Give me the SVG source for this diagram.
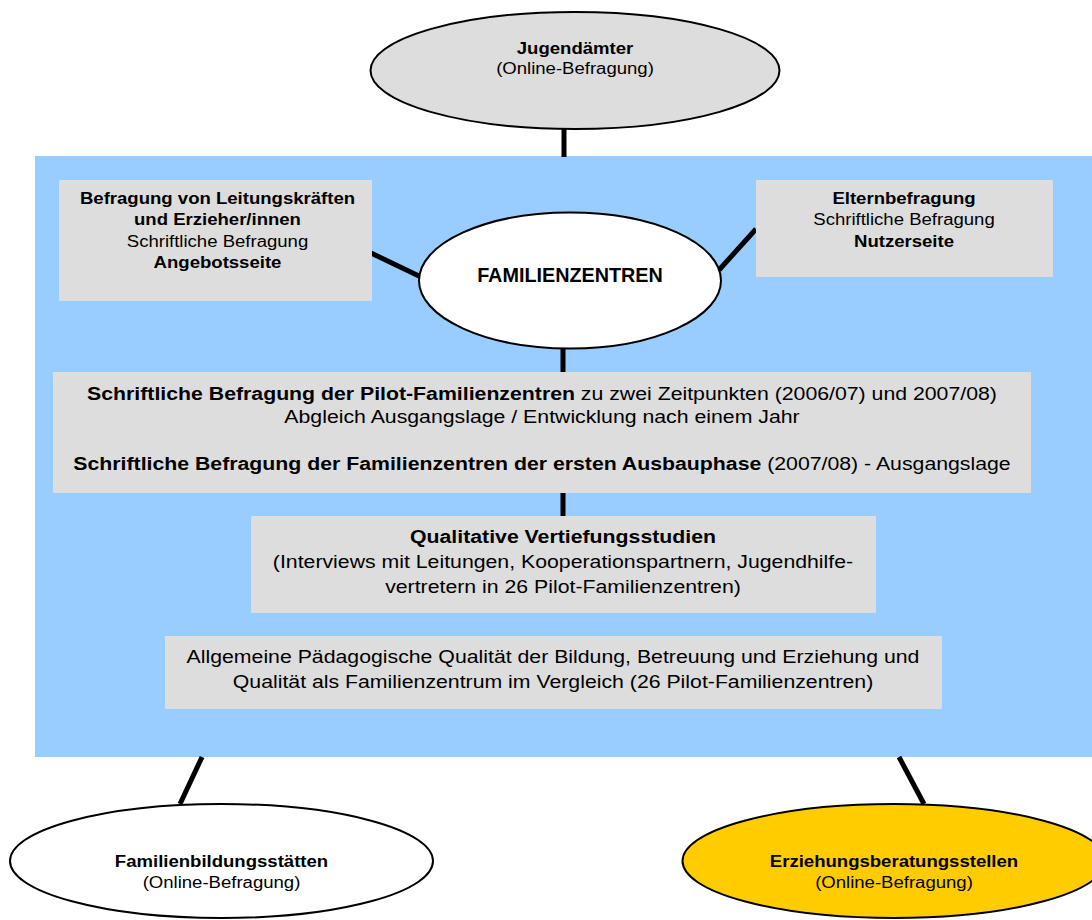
<svg xmlns="http://www.w3.org/2000/svg" width="1092" height="920" viewBox="0 0 1092 920">
<style>
  text { font-family: "Liberation Sans", Arial, sans-serif; fill: #000; text-anchor: middle; }
  .s { font-size: 16px; }
  .m { font-size: 18.5px; }
  .b { font-weight: bold; }
  .box { fill: #DDDDDD; stroke: none; }
  .ell { stroke: #000; stroke-width: 2; }
  .conn line { stroke: #000; stroke-width: 5; }
</style>
<rect id="background" x="35" y="156" width="1057" height="601" fill="#99CCFF"/>
<g class="conn" id="connectors">
  <line x1="564" y1="128" x2="564" y2="157"/>
  <line x1="371" y1="253" x2="421" y2="277"/>
  <line x1="719" y1="270" x2="756" y2="229"/>
  <line x1="563" y1="347" x2="563" y2="373"/>
  <line x1="563" y1="492" x2="563" y2="517"/>
  <line x1="202" y1="757" x2="180" y2="804"/>
  <line x1="899" y1="757" x2="924" y2="804"/>
</g>
<g id="jugendaemter">
  <ellipse class="ell" cx="575" cy="70.5" rx="204.5" ry="58.5" fill="#DDDDDD"/>
  <text class="s b" transform="translate(575,54) scale(1.16,1)">Jugendämter</text>
  <text class="s" transform="translate(575,73.5) scale(1.16,1)">(Online-Befragung)</text>
</g>
<g id="leitung">
  <rect class="box" x="59" y="180" width="313" height="121"/>
  <text class="s b" transform="translate(217.5,204) scale(1.16,1)">Befragung von Leitungskräften</text>
  <text class="s b" transform="translate(217.5,225) scale(1.16,1)">und Erzieher/innen</text>
  <text class="s" transform="translate(217.5,246.5) scale(1.16,1)">Schriftliche Befragung</text>
  <text class="s b" transform="translate(217.5,267.5) scale(1.16,1)">Angebotsseite</text>
</g>
<g id="eltern">
  <rect class="box" x="756" y="180" width="297" height="97"/>
  <text class="s b" transform="translate(904,204) scale(1.16,1)">Elternbefragung</text>
  <text class="s" transform="translate(904,225) scale(1.16,1)">Schriftliche Befragung</text>
  <text class="s b" transform="translate(904,246.5) scale(1.16,1)">Nutzerseite</text>
</g>
<g id="familienzentren">
  <ellipse class="ell" cx="570" cy="280.5" rx="151" ry="68" fill="#FFFFFF"/>
  <text class="b" font-size="19.8" x="570" y="282">FAMILIENZENTREN</text>
</g>
<g id="schriftlich">
  <rect class="box" x="53" y="372" width="978" height="121"/>
  <text class="m" transform="translate(542,400) scale(1.15,1)"><tspan class="b">Schriftliche Befragung der Pilot-Familienzentren</tspan> zu zwei Zeitpunkten (2006/07) und 2007/08)</text>
  <text class="m" transform="translate(542,423) scale(1.15,1)">Abgleich Ausgangslage / Entwicklung nach einem Jahr</text>
  <text class="m" transform="translate(542,469.5) scale(1.15,1)"><tspan class="b">Schriftliche Befragung der Familienzentren der ersten Ausbauphase</tspan> (2007/08) - Ausgangslage</text>
</g>
<g id="qualitativ">
  <rect class="box" x="251" y="516" width="625" height="97"/>
  <text class="m b" transform="translate(563,543) scale(1.15,1)">Qualitative Vertiefungsstudien</text>
  <text class="m" transform="translate(563,568) scale(1.15,1)">(Interviews mit Leitungen, Kooperationspartnern, Jugendhilfe-</text>
  <text class="m" transform="translate(563,593) scale(1.15,1)">vertretern in 26 Pilot-Familienzentren)</text>
</g>
<g id="paedagogisch">
  <rect class="box" x="165" y="636" width="777" height="73"/>
  <text class="m" transform="translate(553,663) scale(1.15,1)">Allgemeine Pädagogische Qualität der Bildung, Betreuung und Erziehung und</text>
  <text class="m" transform="translate(553,688) scale(1.15,1)">Qualität als Familienzentrum im Vergleich (26 Pilot-Familienzentren)</text>
</g>
<g id="familienbildung">
  <ellipse class="ell" cx="221.5" cy="861" rx="211.5" ry="57" fill="#FFFFFF"/>
  <text class="s b" transform="translate(221.5,866.5) scale(1.16,1)">Familienbildungsstätten</text>
  <text class="s" transform="translate(221.5,888) scale(1.16,1)">(Online-Befragung)</text>
</g>
<g id="erziehungsberatung">
  <ellipse class="ell" cx="894" cy="861" rx="211.5" ry="57" fill="#FFCC00"/>
  <text class="s b" transform="translate(894,866.5) scale(1.16,1)">Erziehungsberatungsstellen</text>
  <text class="s" transform="translate(894,888) scale(1.16,1)">(Online-Befragung)</text>
</g>
</svg>
